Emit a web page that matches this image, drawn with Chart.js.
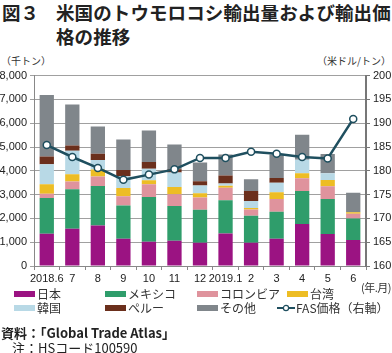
<!DOCTYPE html>
<html>
<head>
<meta charset="utf-8">
<script src="https://cdn.jsdelivr.net/npm/chart.js@4"></script>
<style>
  body { margin: 0; width: 392px; height: 353px; position: relative; background: #fff; overflow: hidden;
         font-family: "Noto Sans CJK JP", "Noto Sans", sans-serif; color: #222; white-space: nowrap; }
  .title { position: absolute; left: 2px; top: 0; font-size: 18.5px; font-weight: bold; line-height: 24px; }
  .title .no { position: absolute; left: 0; top: 0; }
  .title .txt { position: absolute; left: 54px; top: 0; width: 340px; white-space: normal; letter-spacing: 0.1px; }
  .unit { position: absolute; top: 53px; font-size: 10px; color: #333; }
  #chart { position: absolute; left: 0; top: 66px; }
  .lg { position: absolute; font-size: 12px; line-height: 14px; display: flex; align-items: center; color: #333; }
  .lg .sw { width: 21px; height: 6px; margin-right: 2px; }
  .ym { position: absolute; right: 1px; top: 279px; font-size: 11px; color: #333; letter-spacing: -0.5px; }
  .note { position: absolute; font-size: 13px; color: #222; }
</style>
</head>
<body>
<div class="title"><span class="no">図３</span><span class="txt">米国のトウモロコシ輸出量および輸出価格の推移</span></div>
<div class="unit" style="left:1px">（千トン）</div>
<div class="unit" style="right:1px">（米ドル/トン）</div>
<canvas id="chart" width="392" height="226"></canvas>
<div class="ym">(年.月)</div>
<div id="legend"></div>
<div class="note" style="left:1px; top:323px; font-weight:bold">資料：「Global Trade Atlas」</div>
<div class="note" style="left:12px; top:338px">注：HSコード100590</div>
<script>
const months = ['2018.6', '7', '8', '9', '10', '11', '12', '2019.1', '2', '3', '4', '5', '6'];
const japan    = [1360, 1560, 1700, 1140, 1020, 1060, 980, 1370, 980, 1140, 1760, 1340, 1090];
const mexico   = [1500, 1660, 1660, 1400, 1880, 1460, 1380, 1390, 1130, 1140, 1390, 1480, 910];
const colombia = [180, 330, 400, 390, 530, 490, 520, 530, 260, 530, 540, 530, 200];
const taiwan   = [390, 310, 290, 350, 170, 310, 180, 80, 70, 290, 210, 260, 60];
const korea    = [840, 980, 400, 490, 490, 610, 320, 100, 290, 400, 560, 290, 0];
const peru     = [330, 220, 270, 260, 280, 140, 180, 330, 420, 200, 0, 0, 0];
const others   = [2590, 1730, 1140, 1280, 1320, 1030, 790, 880, 490, 980, 1050, 810, 820];
const fasPrice = [185.4, 182.9, 180.6, 178.1, 179.2, 180.3, 182.7, 182.7, 184.0, 183.6, 182.9, 182.6, 190.9];

const series = [
  { label: '日本', data: japan, color: '#9b1382' },
  { label: 'メキシコ', data: mexico, color: '#2f9d6b' },
  { label: 'コロンビア', data: colombia, color: '#df939d' },
  { label: '台湾', data: taiwan, color: '#edbd24' },
  { label: '韓国', data: korea, color: '#b8d9e6' },
  { label: 'ペルー', data: peru, color: '#6b2f1c' },
  { label: 'その他', data: others, color: '#80868b' }
];
const lineColor = '#1f4f5f';

const datasets = [{
  type: 'line',
  label: 'FAS価格（右軸）',
  data: fasPrice,
  yAxisID: 'y1',
  borderColor: lineColor,
  borderWidth: 2.5,
  pointRadius: 3.5,
  pointBackgroundColor: '#fff',
  pointBorderColor: lineColor,
  pointBorderWidth: 1.5,
  tension: 0,
  order: 0
}];
series.forEach(s => datasets.push({
  type: 'bar',
  label: s.label,
  data: s.data,
  backgroundColor: s.color,
  yAxisID: 'y',
  categoryPercentage: 1,
  barPercentage: 0.56,
  order: 1
}));

const tickFont = { family: 'Liberation Sans, Arial, sans-serif', size: 11 };

new Chart(document.getElementById('chart'), {
  data: { labels: months, datasets: datasets },
  options: {
    responsive: false,
    animation: false,
    layout: { padding: { top: 9, left: 0, right: 0, bottom: 0 } },
    plugins: { legend: { display: false }, tooltip: { enabled: false } },
    scales: {
      x: {
        stacked: true,
        grid: { offset: true, drawOnChartArea: false, tickLength: 4, color: '#888' },
        border: { color: '#888' },
        ticks: { font: tickFont, color: '#222', maxRotation: 0, autoSkip: false, padding: 2 },
        afterFit: s => { s.height = 26; }
      },
      y: {
        stacked: true,
        min: 0, max: 8000,
        ticks: { stepSize: 1000, font: tickFont, color: '#222', padding: 3,
                 callback: v => v.toLocaleString('en-US') },
        grid: { color: '#a0a0a0', tickLength: 4 },
        border: { color: '#888' },
        afterFit: s => { s.width = 34; }
      },
      y1: {
        position: 'right',
        min: 160, max: 200,
        ticks: { stepSize: 5, font: tickFont, color: '#222', padding: 3 },
        grid: { drawOnChartArea: false, tickLength: 4, color: '#777' },
        border: { color: '#777', width: 2 },
        afterFit: s => { s.width = 26; }
      }
    }
  }
});

// legend in the same 4-column layout as the reference
const legend = document.getElementById('legend');
const cols = [14, 105, 197, 287];
const rows = [287, 301];
series.forEach((s, i) => {
  const el = document.createElement('div');
  el.className = 'lg';
  el.style.left = cols[i % 4] + 'px';
  el.style.top = rows[Math.floor(i / 4)] + 'px';
  el.innerHTML = '<span class="sw" style="background:' + s.color + '"></span>' + s.label;
  legend.appendChild(el);
});
const fas = document.createElement('div');
fas.className = 'lg';
fas.style.left = cols[3] - 10 + 'px';
fas.style.top = rows[1] + 'px';
fas.innerHTML = '<svg width="18" height="8" style="margin-right:1px"><line x1="0" y1="4" x2="18" y2="4" stroke="' + lineColor +
  '" stroke-width="2"/><circle cx="9" cy="4" r="2.6" fill="#fff" stroke="' + lineColor + '" stroke-width="1.2"/></svg>FAS価格（右軸）';
legend.appendChild(fas);
</script>
</body>
</html>
